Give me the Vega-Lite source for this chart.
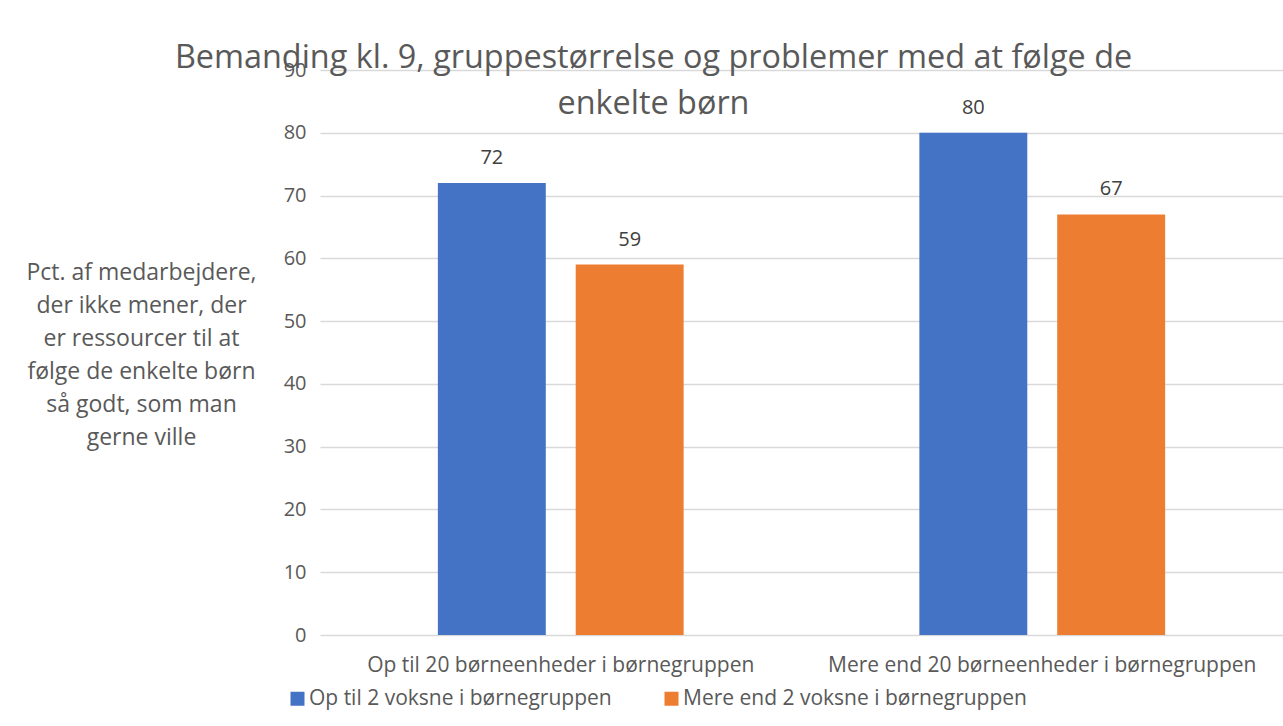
{
  "$schema": "https://vega.github.io/schema/vega-lite/v6.json",
  "autosize": "none",
  "width": 963,
  "height": 565,
  "padding": {"left": 320, "top": 70, "right": 0, "bottom": 91},
  "background": "white",
  "config": {
    "font": "Open Sans",
    "view": {"stroke": null},
    "text": {"font": "Open Sans"}
  },
  "title": {
    "text": ["Bemanding kl. 9, gruppestørrelse og problemer med at følge de", "enkelte børn"],
    "fontSize": 32.4,
    "fontWeight": "normal",
    "color": "#595959",
    "anchor": "middle",
    "frame": "group",
    "baseline": "alphabetic",
    "lineHeight": 46,
    "offset": 0,
    "dx": -148,
    "dy": 86
  },
  "data": {
    "values": [
      {"gruppe": "Op til 20 børneenheder i børnegruppen", "voksne": "Op til 2 voksne i børnegruppen", "pct": 72},
      {"gruppe": "Op til 20 børneenheder i børnegruppen", "voksne": "Mere end 2 voksne i børnegruppen", "pct": 59},
      {"gruppe": "Mere end 20 børneenheder i børnegruppen", "voksne": "Op til 2 voksne i børnegruppen", "pct": 80},
      {"gruppe": "Mere end 20 børneenheder i børnegruppen", "voksne": "Mere end 2 voksne i børnegruppen", "pct": 67}
    ]
  },
  "encoding": {
    "x": {
      "field": "gruppe",
      "type": "nominal",
      "sort": null,
      "scale": {"paddingInner": 0, "paddingOuter": 0},
      "axis": {
        "title": null,
        "labelAngle": 0,
        "labelFontSize": 21,
        "labelColor": "#595959",
        "labelPadding": 19,
        "ticks": false,
        "domain": false,
        "labelLimit": 500
      }
    },
    "xOffset": {
      "field": "voksne",
      "type": "nominal",
      "sort": ["Op til 2 voksne i børnegruppen", "Mere end 2 voksne i børnegruppen"],
      "scale": {"paddingInner": 0.217, "paddingOuter": 0.855}
    },
    "y": {
      "field": "pct",
      "type": "quantitative",
      "scale": {"domain": [0, 90]},
      "axis": {
        "values": [0, 10, 20, 30, 40, 50, 60, 70, 80, 90],
        "title": ["Pct. af medarbejdere,", "der ikke mener, der", "er ressourcer til at", "følge de enkelte børn", "så godt, som man", "gerne ville"],
        "titleAngle": 0,
        "titleAlign": "center",
        "titleBaseline": "middle",
        "titleX": -179,
        "titleY": 202,
        "titleFontSize": 23,
        "titleFontWeight": "normal",
        "titleColor": "#595959",
        "titleLineHeight": 33,
        "labelFontSize": 20,
        "labelColor": "#595959",
        "labelPadding": 14,
        "ticks": false,
        "domain": false,
        "gridColor": "#d9d9d9",
        "gridWidth": 1.5
      }
    }
  },
  "layer": [
    {
      "mark": {"type": "bar"},
      "encoding": {
        "color": {
          "field": "voksne",
          "type": "nominal",
          "sort": ["Op til 2 voksne i børnegruppen", "Mere end 2 voksne i børnegruppen"],
          "scale": {"range": ["#4472c4", "#ed7d31"]},
          "legend": {
            "title": null,
            "orient": "none",
            "direction": "horizontal",
            "legendX": -33,
            "legendY": 618,
            "symbolType": "square",
            "symbolSize": 196,
            "symbolStrokeWidth": 0,
            "symbolOpacity": 1,
            "labelFontSize": 21,
            "labelColor": "#595959",
            "labelOffset": 1,
            "labelLimit": 500,
            "columnPadding": 49
          }
        }
      }
    },
    {
      "mark": {"type": "text", "baseline": "alphabetic", "dy": -19, "fontSize": 20, "color": "#404040"},
      "encoding": {
        "text": {"field": "pct", "type": "quantitative"}
      }
    }
  ]
}
